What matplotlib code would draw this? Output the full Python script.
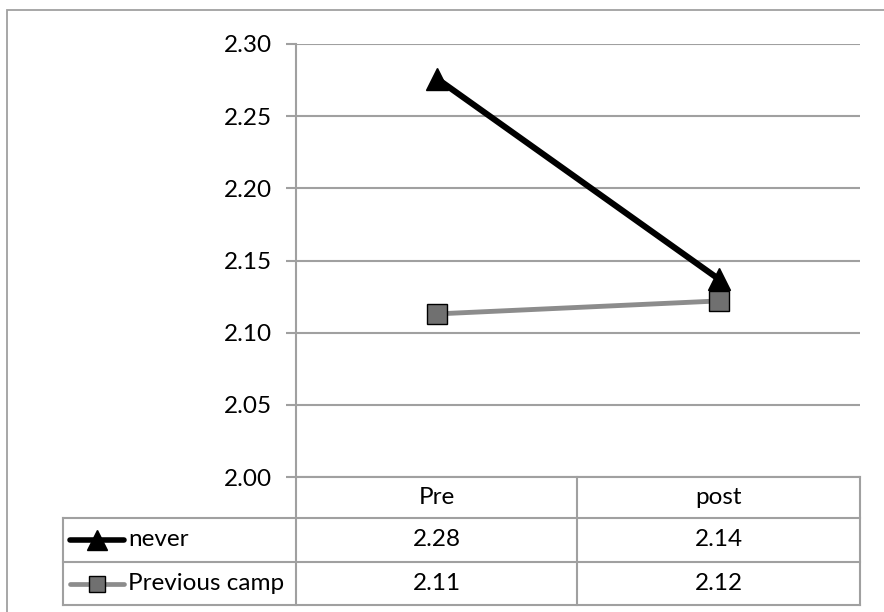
import matplotlib.pyplot as plt
from matplotlib.patches import Rectangle
from matplotlib.lines import Line2D

plt.rcParams['font.family'] = ['Lato', 'DejaVu Sans']

# data
categories = ["Pre", "post"]
series_names = ["never", "Previous camp"]
never = [2.276, 2.137]
previous_camp = [2.113, 2.122]
yticks = [2.00, 2.05, 2.10, 2.15, 2.20, 2.25, 2.30]

W, H = 884, 612
GRID = "#a0a0a0"
FS = 17.5

fig = plt.figure(figsize=(W / 100, H / 100), dpi=100)

def fx(px):
    return px / W

def fy(py):
    return 1 - py / H

# outer frame (runs off right / bottom edge)
fig.patches.append(Rectangle((fx(7), fy(700)), fx(1000), fy(10) - fy(700),
                             transform=fig.transFigure, fill=False,
                             edgecolor=GRID, lw=1.3))

# plot area
x0, x1, ytop, ybot = 296, 860, 44, 477
ax = fig.add_axes([fx(x0), fy(ybot), fx(x1 - x0), fy(ytop) - fy(ybot)])
ax.set_xlim(0, len(categories))
ax.set_ylim(yticks[0], yticks[-1])
xs = [i + 0.5 for i in range(len(categories))]

ax.plot(xs, previous_camp, color="#8c8c8c", lw=3.5, marker="s", ms=14,
        mfc="#707070", mec="black", mew=1.0, zorder=3, clip_on=False)
ax.plot(xs, never, color="black", lw=4.4, marker="^", ms=16,
        mfc="black", mec="black", zorder=4, clip_on=False)

ax.set_yticks(yticks)
ax.set_yticklabels([f"{v:.2f}" for v in yticks], fontsize=FS)
ax.set_xticks([])
ax.yaxis.grid(True, color=GRID, lw=1.5)
ax.set_axisbelow(True)
for s in ["top", "right", "bottom"]:
    ax.spines[s].set_visible(False)
ax.spines["left"].set_color(GRID)
ax.spines["left"].set_linewidth(1.5)
ax.tick_params(axis="y", length=7, width=1.5, color=GRID, pad=10)
for lab in ax.get_yticklabels():
    lab.set_va("center_baseline")

# data table under the plot
tleft, tbot = 63, 605
row_y = [477, 518, 562, 605]
col_x = [x0, 577, x1]
tax = fig.add_axes([fx(tleft), fy(tbot), fx(x1 - tleft), fy(ybot) - fy(tbot)])
tax.set_xlim(tleft, x1)
tax.set_ylim(tbot, ybot)
tax.axis("off")

lk = dict(color=GRID, lw=1.5, clip_on=False)
tax.plot([x0, x1], [row_y[0], row_y[0]], **lk)
for yy in row_y[1:]:
    tax.plot([tleft, x1], [yy, yy], **lk)
for xx in col_x:
    tax.plot([xx, xx], [row_y[0], row_y[-1]], **lk)
tax.plot([tleft, tleft], [row_y[1], row_y[-1]], **lk)

for i, c in enumerate(categories):
    cx = (col_x[i] + col_x[i + 1]) / 2
    tax.text(cx, (row_y[0] + row_y[1]) / 2, c, ha="center", va="center", fontsize=FS)

line_styles = [dict(color="black", lw=4.0), dict(color="#8c8c8c", lw=3.4)]
marker_styles = [
    dict(marker="^", ms=14, mfc="black", mec="black"),
    dict(marker="s", ms=11, mfc="#707070", mec="black", mew=1.0),
]
for r, (name, vals) in enumerate(zip(series_names, [never, previous_camp])):
    cy = (row_y[r + 1] + row_y[r + 2]) / 2
    tax.add_line(Line2D([70, 124], [cy, cy], solid_capstyle="round", **line_styles[r]))
    tax.add_line(Line2D([97], [cy], linestyle="none", **marker_styles[r]))
    tax.text(128, cy, name, ha="left", va="center", fontsize=FS)
    for i, v in enumerate(vals):
        cx = (col_x[i] + col_x[i + 1]) / 2
        tax.text(cx, cy, f"{v:.2f}", ha="center", va="center", fontsize=FS)

fig.savefig("out.png", dpi=100)
